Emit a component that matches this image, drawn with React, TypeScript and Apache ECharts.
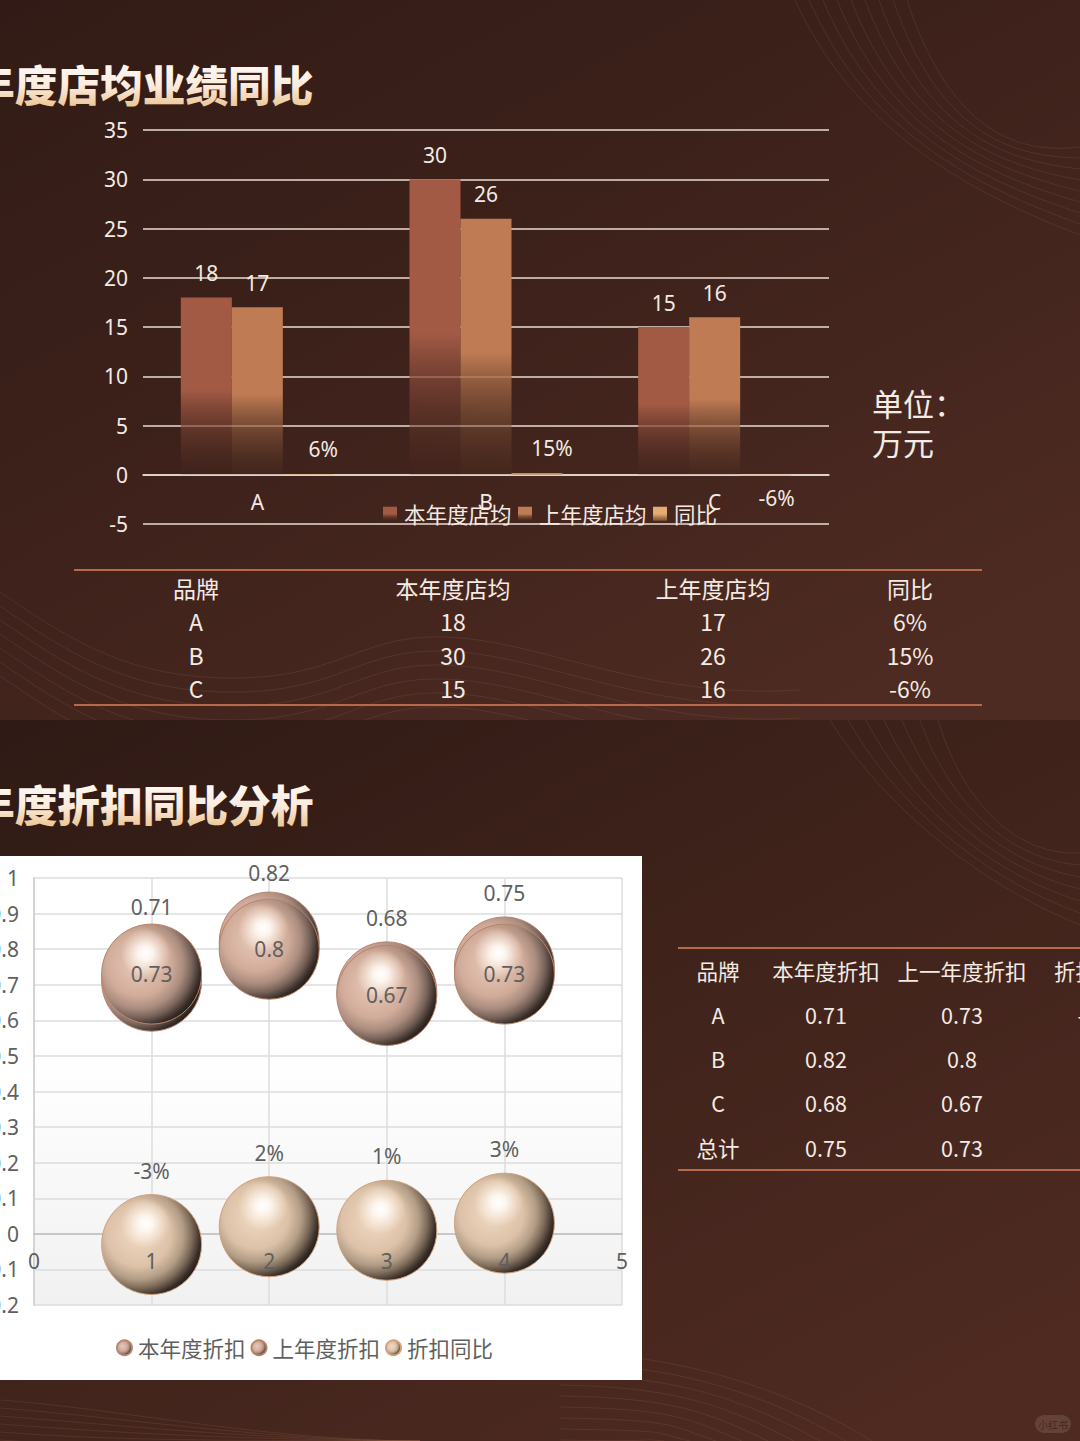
import React, { useEffect, useRef } from "react";
import * as echarts from "echarts";

const storeCategories = ["A", "B", "C"];
const storeThisYear = [18, 30, 15];
const storeLastYear = [17, 26, 16];
const storeYoY = [0.06, 0.15, -0.06];
const storeSeriesNames = ["本年度店均", "上年度店均", "同比"];

const discountX = [1, 2, 3, 4];
const discountThisYear = [0.71, 0.82, 0.68, 0.75];
const discountLastYear = [0.73, 0.8, 0.67, 0.73];
const discountYoY = [-0.03, 0.02, 0.01, 0.03];
const discountSeriesNames = ["本年度折扣", "上年度折扣", "折扣同比"];

const table1Header = ["品牌", "本年度店均", "上年度店均", "同比"];
const table1Rows = [
  ["A", "18", "17", "6%"],
  ["B", "30", "26", "15%"],
  ["C", "15", "16", "-6%"],
];
const table2Header = ["品牌", "本年度折扣", "上一年度折扣", "折扣同比"];
const table2Rows = [
  ["A", "0.71", "0.73", "-3%"],
  ["B", "0.82", "0.8", "2%"],
  ["C", "0.68", "0.67", "1%"],
  ["总计", "0.75", "0.73", "3%"],
];
const titleTexts = ["年度店均业绩同比", "年度折扣同比分析"];

const FONT = '"Noto Sans", "Noto Sans CJK SC", sans-serif';
const CJK = '"Noto Sans CJK SC", "Noto Sans", sans-serif';
const LIGHT = "#F4EBE4";
const GREY = "#5F5F5F";

const lin = (stops: [number, string][], x2 = 0, y2 = 1) =>
  new echarts.graphic.LinearGradient(0, 0, x2, y2, stops.map(([offset, color]) => ({ offset, color })));

const barFill = (c: string, end: string) => lin([[0, c], [0.52, c], [1, end]]);

const sphere = (hi: string, mid: string, low: string, dim: string, rim: string) =>
  new echarts.graphic.RadialGradient(0.37, 0.4, 0.8, [
    { offset: 0, color: hi },
    { offset: 0.4, color: mid },
    { offset: 0.56, color: low },
    { offset: 0.67, color: dim },
    { offset: 0.77, color: "#3A2F2A" },
    { offset: 0.84, color: "#1F1916" },
    { offset: 0.95, color: rim },
  ]);

const highlight = new echarts.graphic.RadialGradient(0.44, 0.29, 0.25, [
  { offset: 0, color: "rgba(255,255,255,1)" },
  { offset: 0.3, color: "rgba(255,250,245,0.9)" },
  { offset: 1, color: "rgba(255,240,225,0)" },
]);

const text = (t: string, x: number, y: number, size: number, fill: string, align = "center", z = 3, extra: any = {}) => ({
  type: "text",
  x,
  y,
  z,
  silent: true,
  style: {
    text: t,
    fill,
    font: `${extra.weight || "normal"} ${size}px ${CJK}`,
    align,
    verticalAlign: "middle",
    textAlign: align,
    textVerticalAlign: "middle",
    ...extra.style,
  },
});

const bez = (p: number[], z: number, stroke: string, w = 1) => ({
  type: "bezierCurve",
  z,
  silent: true,
  shape: { x1: p[0], y1: p[1], cpx1: p[2], cpy1: p[3], cpx2: p[4], cpy2: p[5], x2: p[6], y2: p[7] },
  style: { stroke, lineWidth: w, fill: "none" },
});

function decoration(): any[] {
  const out: any[] = [];
  const stroke = "rgba(150,100,78,0.22)";
  out.push({
    type: "rect", z: -30, silent: true, shape: { x: 0, y: 0, width: 1080, height: 720 },
    style: { fill: lin([[0, "#321B16"], [0.5, "#3E221B"], [1, "#4E2B22"]], 0.8, 1) },
  });
  for (let i = 0; i < 9; i++) {
    out.push(bez([795 + i * 14, 0, 850 + i * 13, 120 + i * 3, 950 + i * 10, 185 - i * 4, 1080, 235 - i * 11], -29, stroke));
  }
  for (let i = 0; i < 7; i++) {
    const d = i * 14;
    out.push(bez([0, 592 + d, 70, 640 + d, 130, 680 + d, 240, 678 + d], -29, stroke));
    out.push(bez([240, 678 + d, 340, 676 + d, 360, 636 + d, 440, 637 + d], -29, stroke));
    out.push(bez([440, 637 + d, 540, 638 + d, 640, 700 + d, 800, 690 + d], -29, stroke));
  }
  out.push({
    type: "rect", z: -28, silent: true, shape: { x: 0, y: 720, width: 1080, height: 721 },
    style: { fill: lin([[0, "#2F1A15"], [0.5, "#3F231B"], [1, "#4E2A21"]], 0.8, 1) },
  });
  for (let i = 0; i < 7; i++) {
    out.push(bez([830 + i * 18, 720, 880 + i * 14, 800 + i, 970 + i * 8, 880 - i * 4, 1080, 925 - i * 12], -27, stroke));
  }
  for (let i = 0; i < 9; i++) {
    out.push(bez([560, 1352 + i * 11, 680, 1354 + i * 11, 790 - i * 20, 1390 + i * 6, 872 - i * 26, 1441], -27, stroke));
    out.push(bez([0, 1400 + i * 8, 130, 1410 + i * 8, 260, 1440, 420, 1441], -27, stroke));
  }
  out.push({
    type: "rect", z: -26, silent: true, shape: { x: 1035, y: 1415, width: 36, height: 18, r: 9 },
    style: { fill: "rgba(120,85,72,0.55)" },
  });
  out.push(text("小红书", 1053, 1424, 10, "rgba(60,35,28,0.85)", "center", -25));
  return out;
}

function tables(): any[] {
  const out: any[] = [];
  const line = (x1: number, x2: number, y: number) => ({
    type: "line", z: 2, silent: true, shape: { x1, y1: y, x2, y2: y },
    style: { stroke: "#B8694B", lineWidth: 2 },
  });
  out.push(line(74, 982, 570), line(74, 982, 705));
  const c1 = [196, 453, 713, 910];
  const r1 = [588, 621, 655, 688];
  [table1Header, ...table1Rows].forEach((row, ri) =>
    row.forEach((t, ci) => out.push(text(t, c1[ci], r1[ri], 23, LIGHT))),
  );
  out.push(line(678, 1080, 948), line(678, 1080, 1170));
  const c2 = [718, 826, 962, 1097];
  const r2 = [970, 1014, 1058, 1102, 1147];
  [table2Header, ...table2Rows].forEach((row, ri) =>
    row.forEach((t, ci) => out.push(text(t, c2[ci], r2[ri], 21.5, LIGHT))),
  );
  out.push(text("单位：", 872, 402, 31, LIGHT, "left"));
  out.push(text("万元", 872, 441, 31, LIGHT, "left"));
  return out;
}

function titles(): any[] {
  const mk = (t: string, y: number) => ({
    type: "text", x: -28, y, z: 4, silent: true,
    style: {
      text: t,
      font: `900 42.7px ${CJK}`,
      fill: "#FBEBDD",
      align: "left", verticalAlign: "middle", textAlign: "left", textVerticalAlign: "middle",
    },
  });
  return [mk(titleTexts[0], 83), mk(titleTexts[1], 803)];
}

function panel(): any[] {
  return [
    { type: "rect", z: -5, silent: true, shape: { x: 0, y: 856, width: 642, height: 524 }, style: { fill: "#FFFFFF" } },
    {
      type: "rect", z: -4, silent: true, shape: { x: 34, y: 878, width: 588, height: 427 },
      style: { fill: lin([[0, "#FFFFFF"], [0.42, "#FFFFFF"], [1, "#F1F1F1"]]) },
    },
  ];
}

function buildOption(): any {
  const gridColor = "#EADDD3";
  const barLabel = { show: true, position: "top", distance: 14, color: LIGHT, fontSize: 21, fontFamily: FONT };
  const barSeries = (name: string, data: any[], fill: any, label: any) => ({
    type: "bar", name, data, xAxisIndex: 0, yAxisIndex: 0,
    barWidth: 51, barGap: 0, itemStyle: { color: fill }, label,
  });
  const yoyItems = storeYoY.map((value) => ({
    value,
    label: {
      position: value < 0 ? "bottom" : "top",
      distance: value < 0 ? 12 : 15,
      offset: value < 0 ? [11, 0] : [15, 0],
    },
  }));
  const pct = (p: any) => `${Math.round((Array.isArray(p.value) ? p.value[1] : p.value) * 100)}%`;
  const plain = (p: any) => `${p.value[1]}`;
  const scatterLabel = { show: true, color: GREY, fontSize: 21, fontFamily: FONT };
  const points = (ys: number[]) => discountX.map((x, i) => [x, ys[i]]);
  const scatter = (name: string, ys: number[], fill: any, border: string, label: any, z: number) => ({
    type: "scatter", name, xAxisIndex: 1, yAxisIndex: 1, z,
    data: points(ys).map((value) => ({
      value,
      label: value[1] > 0.8 && label.position === "top" ? { distance: 8 } : undefined,
    })),
    symbol: "circle", symbolSize: 100,
    itemStyle: { color: fill, borderColor: border, borderWidth: 1, opacity: 1 },
    label,
  });
  const gloss = (ys: number[], z: number) => ({
    type: "scatter", name: "高光", xAxisIndex: 1, yAxisIndex: 1, z, silent: true,
    data: points(ys), symbol: "circle", symbolSize: 100,
    itemStyle: { color: highlight, opacity: 1 }, label: { show: false },
  });
  return {
    animation: false,
    backgroundColor: "transparent",
    textStyle: { fontFamily: FONT },
    graphic: { elements: [...decoration(), ...panel(), ...tables(), ...titles()] },
    grid: [
      { left: 143, width: 686, top: 130, height: 394, outerBoundsMode: "none", containLabel: false },
      { left: 34, width: 588, top: 878, height: 427, outerBoundsMode: "none", containLabel: false },
    ],
    legend: [
      {
        left: 378, top: 498, itemWidth: 14, itemHeight: 14, itemGap: 6.5, z: 8,
        data: storeSeriesNames,
        textStyle: { color: LIGHT, fontSize: 21.5, fontFamily: CJK, padding: [0, 0, 0, 2] },
        icon: "rect",
      },
      {
        left: 111, top: 1332, itemWidth: 15, itemHeight: 15, itemGap: 5, z: 8,
        data: discountSeriesNames,
        textStyle: { color: GREY, fontSize: 21.5, fontFamily: CJK, padding: [0, 0, 0, 1] },
        icon: "circle",
      },
    ],
    xAxis: [
      {
        type: "category", gridIndex: 0, data: storeCategories,
        axisTick: { show: false },
        axisLine: { show: true, onZero: true, lineStyle: { color: gridColor, width: 1.5 } },
        axisLabel: { color: LIGHT, fontSize: 21, margin: -33, fontFamily: FONT },
      },
      {
        type: "value", gridIndex: 1, min: 0, max: 5, interval: 1,
        axisTick: { show: false }, axisLabel: { show: false },
        axisLine: { show: true, onZero: true, lineStyle: { color: "#BFBFBF", width: 1.5 } },
        splitLine: { show: true, lineStyle: { color: "#DDDDDD", width: 1.5 } },
      },
      {
        type: "value", gridIndex: 1, min: 0, max: 5, interval: 1, position: "bottom", z: 6,
        axisTick: { show: false }, splitLine: { show: false },
        axisLine: { show: false, onZero: true },
        axisLabel: { color: GREY, fontSize: 21, margin: -55, fontFamily: FONT },
      },
    ],
    yAxis: [
      {
        type: "value", gridIndex: 0, min: -5, max: 35, interval: 5,
        axisLine: { show: false }, axisTick: { show: false },
        axisLabel: { color: LIGHT, fontSize: 21, margin: 15, fontFamily: FONT },
        splitLine: { show: true, lineStyle: { color: gridColor, width: 1.5, type: "solid" } },
      },
      {
        type: "value", gridIndex: 1, min: -0.2, max: 1, interval: 0.1,
        axisLine: { show: true, onZero: false, lineStyle: { color: "#D4D4D4", width: 2 } },
        axisTick: { show: false },
        axisLabel: { color: GREY, fontSize: 21, margin: 15, fontFamily: FONT },
        splitLine: { show: true, lineStyle: { color: "#DDDDDD", width: 1.5 } },
      },
    ],
    series: [
      barSeries(storeSeriesNames[0], storeThisYear, barFill("#A35A45", "rgba(70,38,28,0.2)"), barLabel),
      barSeries(storeSeriesNames[1], storeLastYear, barFill("#BF7B54", "rgba(80,48,32,0.2)"), barLabel),
      barSeries(storeSeriesNames[2], yoyItems, barFill("#E3AC72", "rgba(150,105,70,0.7)"), { ...barLabel, formatter: pct }),
      scatter(
        discountSeriesNames[0], discountThisYear,
        sphere("#E8C8BA", "#D0A99A", "#A88B80", "#75615A", "#D3A796"), "#B98672",
        { ...scatterLabel, position: "top", distance: 13, formatter: plain }, 3,
      ),
      scatter(
        discountSeriesNames[1], discountLastYear,
        sphere("#E8CABA", "#D2AC9A", "#AA8C7E", "#776259", "#D6AD97"), "#BA8366",
        { ...scatterLabel, position: "inside", formatter: plain }, 4,
      ),
      gloss(discountLastYear, 4),
      scatter(
        discountSeriesNames[2], discountYoY,
        sphere("#F0D9C3", "#DDC2A8", "#B39D86", "#7C6A58", "#DAB897"), "#D1A27C",
        { ...scatterLabel, position: "top", distance: 13, formatter: pct }, 3,
      ),
      gloss(discountYoY, 3),
    ],
  };
}

function applyTitleGradient(root: HTMLElement) {
  const svg = root.querySelector("svg");
  if (!svg) return;
  const NS = "http://www.w3.org/2000/svg";
  const grad = document.createElementNS(NS, "linearGradient");
  grad.setAttribute("id", "title-fill");
  grad.setAttribute("x1", "0");
  grad.setAttribute("y1", "0");
  grad.setAttribute("x2", "0");
  grad.setAttribute("y2", "1");
  ([["0", "#FFFFFF"], ["0.55", "#FBEBDD"], ["0.95", "#E9BE85"]] as const).forEach(([offset, color]) => {
    const s = document.createElementNS(NS, "stop");
    s.setAttribute("offset", offset);
    s.setAttribute("stop-color", color);
    grad.appendChild(s);
  });
  const defs = document.createElementNS(NS, "defs");
  defs.appendChild(grad);
  svg.appendChild(defs);
  svg.querySelectorAll("text").forEach((el) => {
    if (titleTexts.includes(el.textContent || "")) el.setAttribute("fill", "url(#title-fill)");
  });
}

export default function App() {
  const ref = useRef<HTMLDivElement>(null);
  useEffect(() => {
    document.body.style.margin = "0";
    const chart = echarts.init(ref.current as HTMLDivElement, undefined, { renderer: "svg" });
    chart.setOption(buildOption());
    applyTitleGradient(ref.current as HTMLDivElement);
    return () => chart.dispose();
  }, []);
  return <div ref={ref} style={{ width: 1080, height: 1441, overflow: "hidden" }} />;
}
